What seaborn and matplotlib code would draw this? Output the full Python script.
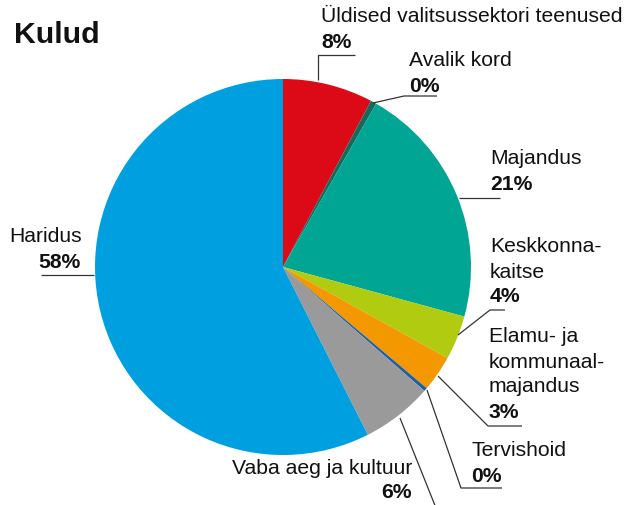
import matplotlib
matplotlib.use("Agg")
import matplotlib.pyplot as plt
import seaborn as sns

# ---- data ----
categories = ["Üldised valitsussektori teenused", "Avalik kord", "Majandus",
              "Keskkonnakaitse", "Elamu- ja kommunaalmajandus", "Tervishoid",
              "Vaba aeg ja kultuur", "Haridus"]
shares = [7.75, 0.5, 21.0, 3.8, 3.1, 0.3, 6.1, 57.45]
pct_labels = ["8%", "0%", "21%", "4%", "3%", "0%", "6%", "58%"]
name_labels = ["Üldised valitsussektori teenused", "Avalik kord", "Majandus",
               "Keskkonna-\nkaitse", "Elamu- ja\nkommunaal-\nmajandus", "Tervishoid",
               "Vaba aeg ja kultuur", "Haridus"]
colors = ["#dc0a17", "#17695a", "#00a594", "#b1cb10", "#f39800", "#1b5ea9",
          "#9a9a9a", "#009fe0"]

sns.set_theme(style="white")
plt.rcParams["font.family"] = ["Liberation Sans", "DejaVu Sans"]

W, H = 630, 505
fig = plt.figure(figsize=(W / 100, H / 100), dpi=100)

# pie axes: centre (283, 267) px, radius 188 px
cx, cy, r = 283, 267, 188
ax = fig.add_axes([(cx - r) / W, (H - (cy + r)) / H, 2 * r / W, 2 * r / H])
ax.pie(shares, colors=colors, startangle=90, counterclock=False, radius=1,
       wedgeprops=dict(linewidth=0))
ax.set_xlim(-1, 1)
ax.set_ylim(-1, 1)
ax.set_aspect("equal")
ax.axis("off")

# overlay axes in pixel coordinates for labels
ov = fig.add_axes([0, 0, 1, 1], zorder=5)
ov.set_xlim(0, W)
ov.set_ylim(H, 0)
ov.axis("off")
ov.patch.set_alpha(0)

fs = 15.2
ov.text(14, 35, "Kulud", fontsize=21.8, fontweight="bold", va="center", ha="left", color="#111111")

# label layout: (x, y of first line, line spacing, ha)
layout = [
    (321, 17, 26, "left"),
    (409, 60, 26, "left"),
    (490, 158, 27, "left"),
    (490, 247, 25, "left"),
    (489, 337, 25, "left"),
    (471, 450, 27, "left"),
    (412, 468, 25, "right"),
    (9, 236, 26, "left"),
]
for (x, y, dy, ha), name, pct in zip(layout, name_labels, pct_labels):
    lines = name.split("\n")
    for i, ln in enumerate(lines):
        ov.text(x, y + i * dy, ln, fontsize=fs, va="center", ha=ha, color="#111111")
    if name == "Haridus":
        ov.text(81, y + len(lines) * dy, pct, fontsize=fs, fontweight="bold",
                va="center", ha="right", color="#111111")
    else:
        ov.text(x, y + len(lines) * dy, pct, fontsize=fs, fontweight="bold",
                va="center", ha=ha, color="#111111")

# leader lines
leaders = [
    [(318, 80), (318, 55), (355, 55)],
    [(373, 103), (404, 96), (437, 96)],
    [(459, 198), (500, 198)],
    [(458, 335), (490, 310), (505, 310)],
    [(438, 376), (488, 426), (522, 426)],
    [(427, 390), (461, 488), (502, 488)],
    [(400, 418), (436, 508)],
    [(41, 275), (94, 275)],
]
for pts in leaders:
    xs = [p[0] for p in pts]
    ys = [p[1] for p in pts]
    ov.plot(xs, ys, color="#333333", lw=0.9, solid_capstyle="butt")

fig.savefig("out.png", dpi=100)
